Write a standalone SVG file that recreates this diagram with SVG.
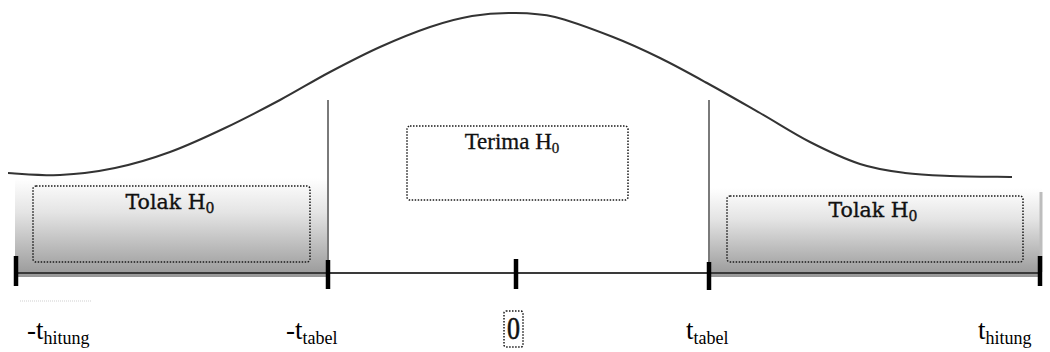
<svg xmlns="http://www.w3.org/2000/svg" width="1050" height="352" viewBox="0 0 1050 352">
<style>
.dot{fill:none;stroke:#1a1a1a;stroke-width:1.5;stroke-dasharray:1.5 1.5}
.lbl{font-family:"DejaVu Serif","Liberation Serif",serif;font-size:20.5px;fill:#111;stroke:#111;stroke-width:0.35}
.ax{font-family:"Liberation Serif","Times New Roman",serif;font-size:27px;fill:#000}
.tick{stroke:#000;stroke-width:4.5}
.vline{stroke:#7a7a7a;stroke-width:2}
</style>
<defs>
<linearGradient id="shade" x1="0" y1="0" x2="0" y2="1">
<stop offset="0" stop-color="#ffffff"/>
<stop offset="0.35" stop-color="#e4e4e4"/>
<stop offset="1" stop-color="#979797"/>
</linearGradient>
</defs>
<rect width="1050" height="352" fill="#fff"/>
<g id="curve">
<path d="M8,173 C16.7,173.3 42.2,175.8 60,175 C77.8,174.2 96.7,171.8 115,168 C133.3,164.2 151.7,158.7 170,152 C188.3,145.3 206.7,136.7 225,128 C243.3,119.3 262.5,109.3 280,100 C297.5,90.7 313.3,80.8 330,72 C346.7,63.2 363.3,54.5 380,47 C396.7,39.5 414.7,32.2 430,27 C445.3,21.8 458.3,18.3 472,16 C485.7,13.7 498.2,12.8 512,13 C525.8,13.2 538.2,13 555,17 C571.8,21 595.5,30.2 613,37 C630.5,43.8 644.3,50.3 660,58 C675.7,65.7 690.3,73.8 707,83 C723.7,92.2 742.8,103.2 760,113 C777.2,122.8 793.3,133.5 810,142 C826.7,150.5 844.2,158.8 860,164 C875.8,169.2 890,171 905,173 C920,175 932.2,175.3 950,176 C967.8,176.7 1001.7,176.8 1012,177" fill="none" stroke="#333" stroke-width="2"/>
</g>
<g id="reject-left">
<rect x="15" y="178" width="313" height="99" fill="url(#shade)"/>
<rect class="dot" x="33" y="186" width="277" height="76" rx="3"/>
<text class="lbl" x="170" y="209" text-anchor="middle">Tolak H<tspan font-size="14" dy="4">0</tspan></text>
</g>
<g id="reject-right">
<rect x="709" y="188" width="333" height="89" fill="url(#shade)"/>
<line x1="1041" y1="192" x2="1041" y2="272" stroke="#bdbdbd" stroke-width="3"/>
<rect class="dot" x="727" y="196" width="296" height="66" rx="3"/>
<text class="lbl" x="873" y="217" text-anchor="middle">Tolak H<tspan font-size="14" dy="4">0</tspan></text>
</g>
<g id="accept">
<rect class="dot" x="407" y="126" width="221" height="74" rx="3"/>
<text x="512" y="149" text-anchor="middle" font-family="Liberation Serif, Times New Roman, serif" font-size="23" fill="#111" stroke="#111" stroke-width="0.3">Terima H<tspan font-size="15" dy="4">0</tspan></text>
</g>
<g id="connectors">
<line class="vline" x1="328" y1="100" x2="328" y2="266"/>
<line class="vline" x1="709" y1="100" x2="709" y2="266"/>
<line x1="15" y1="273" x2="1041" y2="273" stroke="#3a3a3a" stroke-width="2"/>
<line class="tick" x1="16" y1="256" x2="16" y2="286"/>
<line class="tick" x1="328" y1="260" x2="328" y2="289"/>
<line class="tick" x1="516" y1="259" x2="516" y2="289"/>
<line class="tick" x1="709" y1="262" x2="709" y2="290"/>
<line class="tick" x1="1040" y1="256" x2="1040" y2="286"/>
<line x1="20" y1="301" x2="92" y2="301" stroke="#cfcfcf" stroke-width="1" stroke-dasharray="1 1"/>
</g>
<g id="axis-labels">
<text class="ax" x="27" y="339">-t<tspan font-size="18" dy="5">hitung</tspan></text>
<text class="ax" x="286" y="339">-t<tspan font-size="18" dy="5">tabel</tspan></text>
<rect class="dot" x="504" y="311" width="19" height="36" rx="2"/>
<text x="507" y="339" font-family="Liberation Serif, Times New Roman, serif" font-size="31" fill="#111" stroke="#111" stroke-width="0.6" textLength="13" lengthAdjust="spacingAndGlyphs">0</text>
<text class="ax" x="686" y="339">t<tspan font-size="18" dy="5">tabel</tspan></text>
<text class="ax" x="978" y="339">t<tspan font-size="18" dy="5">hitung</tspan></text>
</g>
</svg>
